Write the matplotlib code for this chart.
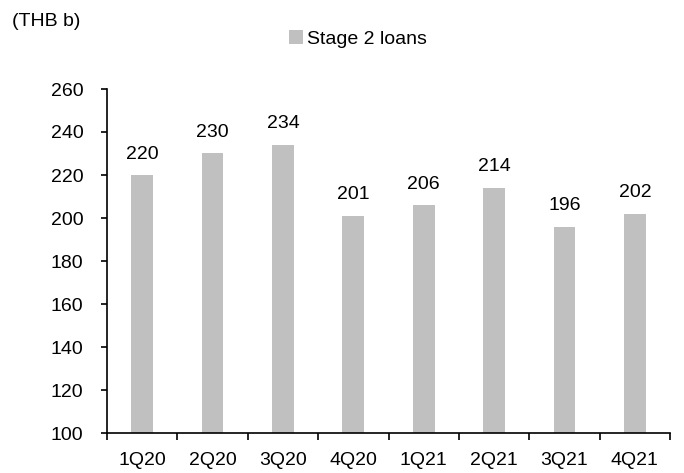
import matplotlib.pyplot as plt
import numpy as np

plt.rcParams['font.family'] = ['Liberation Sans', 'DejaVu Sans']

quarters = ["1Q20", "2Q20", "3Q20", "4Q20", "1Q21", "2Q21", "3Q21", "4Q21"]
stage2 = [220, 230, 234, 201, 206, 214, 196, 202]

fig = plt.figure(figsize=(6.84, 4.73), dpi=100)
ax = fig.add_axes([107/684, 1 - 433/473, 563/684, 344/473])

x = np.arange(len(quarters))
bars = ax.bar(x, stage2, width=0.31, color="#c0c0c0", label="Stage 2 loans")

for xi, v in zip(x, stage2):
    ax.annotate(str(v), (xi, v), xytext=(0, 9), textcoords="offset points",
                ha="center", va="bottom", fontsize=14)

ax.set_xlim(-0.5, len(quarters) - 0.5)
ax.set_ylim(100, 260)
ax.set_yticks(range(100, 261, 20))
ax.tick_params(axis="y", labelsize=14, length=4, width=1.2, direction="out", pad=13)

# ticks between categories, labels under the bars
ax.set_xticks(np.arange(-0.5, len(quarters), 1))
ax.set_xticklabels([])
ax.set_xticks(x, minor=True)
ax.set_xticklabels(quarters, minor=True)
ax.tick_params(axis="x", which="major", length=5, width=1.2, direction="out")
ax.tick_params(axis="x", which="minor", length=0, labelsize=14, pad=14)

for s in ["top", "right"]:
    ax.spines[s].set_visible(False)
for s in ["left", "bottom"]:
    ax.spines[s].set_linewidth(1.2)

fig.text(12/684, 1 - 22/473, "(THB b)", fontsize=14, va="center", ha="left")
ax.legend(loc="center", bbox_to_anchor=(358/684, 1 - 39/473), bbox_transform=fig.transFigure,
          frameon=False, fontsize=14, handlelength=0.75, handleheight=0.75,
          handletextpad=0.2)

fig.savefig("out.png", dpi=100)
